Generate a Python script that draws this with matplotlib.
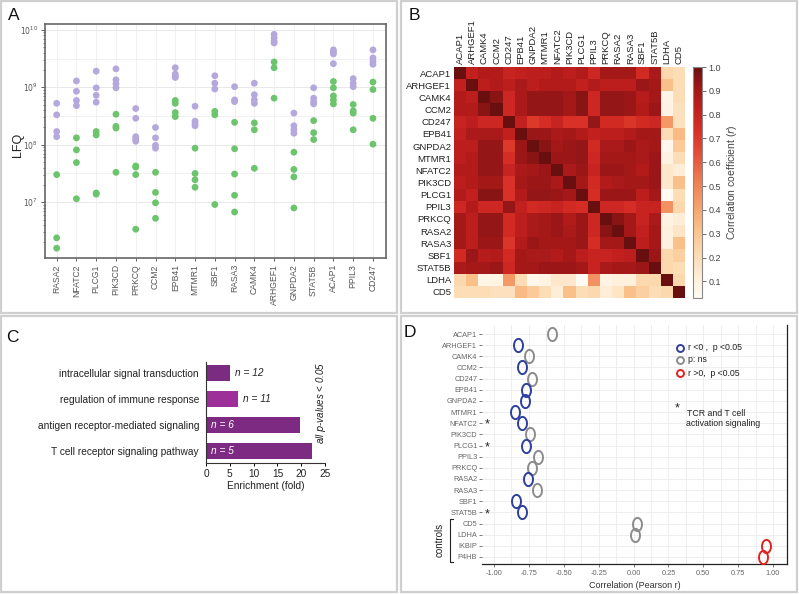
import numpy as np
import matplotlib
matplotlib.use("Agg")
import matplotlib.pyplot as plt
from matplotlib.colors import LinearSegmentedColormap
from matplotlib.patches import Rectangle
from matplotlib.path import Path
from matplotlib.lines import Line2D
from matplotlib.ticker import LogLocator, NullFormatter, FixedLocator

plt.rcParams['font.family'] = ['Liberation Sans', 'DejaVu Sans']

W, H = 799, 594

# ---------------- Panel A data ----------------
a_genes = ["RASA2", "NFATC2", "PLCG1", "PIK3CD", "PRKCQ", "CCM2", "EPB41", "MTMR1", "SBF1",
           "RASA3", "CAMK4", "ARHGEF1", "GNPDA2", "STAT5B", "ACAP1", "PPIL3", "CD247"]
a_purple_log = [
    [8.72, 8.52, 8.23, 8.14],
    [9.11, 8.93, 8.77, 8.68],
    [9.28, 8.99, 8.86, 8.74],
    [9.32, 9.13, 9.06, 8.99],
    [8.63, 8.46, 8.14, 8.10, 8.06],
    [8.30, 8.12, 7.99, 7.94],
    [9.34, 9.23, 9.19, 9.17],
    [8.67, 8.41, 8.37, 8.33],
    [9.20, 9.07, 8.97],
    [9.01, 8.78, 8.75],
    [9.07, 8.87, 8.78, 8.72],
    [9.92, 9.86, 9.80, 9.77],
    [8.55, 8.33, 8.26, 8.20],
    [8.99, 8.81, 8.75, 8.71],
    [9.65, 9.61, 9.58, 9.41],
    [9.15, 9.07, 9.01],
    [9.65, 9.51, 9.45, 9.40],
]
a_green_log = [
    [7.48, 6.38, 6.20],
    [8.12, 7.91, 7.69, 7.06],
    [8.23, 8.17, 7.16, 7.14],
    [8.53, 8.32, 8.29, 7.52],
    [7.63, 7.61, 7.48, 6.53],
    [7.52, 7.17, 6.99, 6.72],
    [8.77, 8.72, 8.56, 8.49],
    [7.94, 7.50, 7.39, 7.26],
    [8.58, 8.52, 6.96],
    [8.39, 7.93, 7.49, 7.12, 6.83],
    [8.38, 8.26, 7.59],
    [9.44, 9.34, 8.81],
    [7.87, 7.57, 7.44, 6.90],
    [8.42, 8.21, 8.09],
    [9.10, 8.99, 8.85, 8.78, 8.71],
    [8.70, 8.59, 8.55, 8.26],
    [9.09, 8.96, 8.46, 8.01],
]

# ---------------- Panel B data ----------------
b_genes = ["ACAP1", "ARHGEF1", "CAMK4", "CCM2", "CD247", "EPB41", "GNPDA2", "MTMR1", "NFATC2",
           "PIK3CD", "PLCG1", "PPIL3", "PRKCQ", "RASA2", "RASA3", "SBF1", "STAT5B", "LDHA", "CD5"]
b_corr = [
    [1.00, .82, .86, .86, .80, .82, .84, .84, .86, .84, .86, .78, .90, .90, .90, .76, .88, .22, .20],
    [.82, 1.00, .84, .86, .84, .88, .84, .86, .86, .86, .82, .86, .84, .84, .84, .92, .90, .32, .20],
    [.86, .84, 1.00, .95, .78, .88, .93, .93, .93, .90, .95, .78, .93, .93, .92, .85, .90, .07, .20],
    [.86, .86, .95, 1.00, .78, .88, .93, .93, .93, .90, .95, .78, .93, .93, .92, .86, .92, .08, .18],
    [.80, .84, .78, .78, 1.00, .82, .70, .74, .80, .72, .72, .93, .76, .76, .71, .76, .78, .44, .18],
    [.82, .88, .88, .88, .82, 1.00, .92, .92, .88, .90, .86, .82, .84, .84, .86, .90, .90, .20, .34],
    [.84, .84, .93, .93, .70, .92, 1.00, .95, .90, .92, .93, .76, .88, .88, .92, .88, .90, .05, .28],
    [.84, .86, .93, .93, .74, .92, .95, 1.00, .92, .92, .93, .78, .90, .90, .90, .88, .92, .08, .20],
    [.86, .86, .93, .93, .80, .88, .90, .92, 1.00, .88, .92, .80, .92, .92, .90, .86, .92, .15, .12],
    [.84, .86, .90, .90, .72, .90, .92, .92, .88, 1.00, .90, .76, .86, .88, .90, .90, .92, .15, .32],
    [.86, .82, .95, .95, .72, .86, .93, .93, .92, .90, 1.00, .74, .92, .92, .92, .84, .90, .03, .20],
    [.78, .86, .78, .78, .93, .82, .76, .78, .80, .76, .74, 1.00, .78, .78, .74, .80, .80, .46, .22],
    [.90, .84, .93, .93, .76, .84, .88, .90, .92, .86, .92, .78, 1.00, .95, .90, .80, .88, .08, .12],
    [.90, .84, .93, .93, .76, .84, .88, .90, .92, .88, .92, .78, .95, 1.00, .90, .82, .90, .10, .16],
    [.90, .84, .92, .92, .71, .86, .92, .90, .90, .90, .92, .74, .90, .90, 1.00, .84, .90, .10, .32],
    [.76, .92, .85, .86, .76, .90, .88, .88, .86, .90, .84, .80, .80, .82, .84, 1.00, .92, .22, .26],
    [.88, .90, .90, .92, .78, .90, .90, .92, .92, .92, .90, .80, .88, .90, .90, .92, 1.00, .22, .20],
    [.22, .32, .07, .08, .44, .20, .05, .08, .15, .15, .03, .46, .08, .10, .10, .22, .22, 1.00, .22],
    [.20, .20, .20, .18, .18, .34, .28, .20, .12, .32, .20, .22, .12, .16, .32, .26, .20, .22, 1.00],
]
b_cbar_ticks = [0.1, 0.2, 0.3, 0.4, 0.5, 0.6, 0.7, 0.8, 0.9, 1.0]

# ---------------- Panel C data ----------------
c_terms = ["intracellular signal transduction", "regulation of immune response",
           "antigen receptor-mediated signaling", "T cell receptor signaling pathway"]
c_enrich = [5.0, 6.7, 19.7, 22.2]
c_n = [12, 11, 6, 5]

# ---------------- Panel D data ----------------
d_genes = ["ACAP1", "ARHGEF1", "CAMK4", "CCM2", "CD247", "EPB41", "GNPDA2", "MTMR1", "NFATC2",
           "PIK3CD", "PLCG1", "PPIL3", "PRKCQ", "RASA2", "RASA3", "SBF1", "STAT5B",
           "CD5", "LDHA", "IKBIP", "P4HB"]
d_r = [-0.587, -0.828, -0.749, -0.80, -0.725, -0.773, -0.775, -0.847, -0.80,
       -0.742, -0.773, -0.685, -0.725, -0.756, -0.694, -0.84, -0.80,
       0.028, 0.008, 0.952, 0.928]
d_group = ["ns", "neg", "ns", "neg", "ns", "neg", "neg", "neg", "neg",
           "ns", "neg", "ns", "ns", "neg", "ns", "neg", "neg",
           "ns", "ns", "pos", "pos"]
d_star = ["NFATC2", "PLCG1", "STAT5B"]

# ---------------------------------------------------------
fig = plt.figure(figsize=(W / 100, H / 100), dpi=100)
fig.patch.set_facecolor('white')


def axes_px(x0, y0, x1, y1):
    return fig.add_axes([x0 / W, 1 - y1 / H, (x1 - x0) / W, (y1 - y0) / H])


def fx(px):
    return px / W


def fy(py):
    return 1 - py / H


# panel frames
for (x0, y0, x1, y1) in [(1, 1, 397, 313), (401, 1, 797, 313), (1, 316, 397, 592), (401, 316, 797, 592)]:
    fig.add_artist(Rectangle((fx(x0), fy(y1)), (x1 - x0) / W, (y1 - y0) / H,
                             transform=fig.transFigure, fill=False, edgecolor='#cfcfcf', lw=1.6))

for lab, x, y in [("A", 14, 15), ("B", 414, 15), ("C", 12, 337), ("D", 410, 333)]:
    fig.text(fx(x), fy(y), lab, fontsize=12.5, ha='center', va='center', color='#111')

# ---------------- Panel A ----------------
axA = axes_px(45, 24, 386, 258)
purple = '#b5a8dc'
green = '#6cc46c'
for i in range(len(a_genes)):
    pv = 10 ** np.array(a_purple_log[i])
    gv = 10 ** np.array(a_green_log[i])
    axA.scatter(np.full(len(pv), i), pv, s=24, color=purple, edgecolors='none', zorder=3)
    axA.scatter(np.full(len(gv), i), gv, s=24, color=green, edgecolors='none', zorder=3)
axA.set_yscale('log')
axA.set_ylim(1.07e6, 1.26e10)
axA.set_xlim(-0.59, 16.66)
axA.set_xticks(range(len(a_genes)))
axA.set_xticklabels(a_genes, rotation=90, fontsize=6.2, color='#555')
axA.yaxis.set_major_locator(FixedLocator([1e7, 1e8, 1e9, 1e10]))
axA.set_yticklabels([r'$10^{7}$', r'$10^{8}$', r'$10^{9}$', r'$10^{10}$'], fontsize=5.5, color='#555')
axA.yaxis.set_minor_locator(LogLocator(base=10, subs=np.arange(2, 10)))
axA.yaxis.set_minor_formatter(NullFormatter())
for v in [1e7, 1e8, 1e9, 1e10]:
    axA.axhline(v, color='#e8e8e8', lw=0.7, zorder=0)
    axA.axhline(v * 10 ** 0.5, color='#efefef', lw=0.6, zorder=0)
for i in range(len(a_genes)):
    axA.axvline(i, color='#eeeeee', lw=0.6, zorder=0)
axA.tick_params(axis='both', which='major', length=3, width=0.6, color='#444', pad=2)
axA.tick_params(axis='y', which='minor', length=1.8, width=0.5, color='#444')
axA.tick_params(axis='x', length=2.5)
for s in axA.spines.values():
    s.set_color('#666')
    s.set_linewidth(1.2)
fig.text(fx(18), fy(145), 'LFQ', rotation=90, fontsize=9, color='#222', ha='center', va='center')

# ---------------- Panel B ----------------
cmap = LinearSegmentedColormap.from_list('corr', [
    (0.00, '#fffaf2'),
    (0.08, '#fff0dc'),
    (0.18, '#fddcb4'),
    (0.29, '#fbc38c'),
    (0.40, '#f6a06c'),
    (0.51, '#ee7c52'),
    (0.61, '#e5533c'),
    (0.72, '#d93026'),
    (0.82, '#c21f1f'),
    (0.91, '#a01818'),
    (1.00, '#6a0f0f'),
])
axB = axes_px(454, 67, 685, 298)
mat = np.array(b_corr)
im = axB.imshow(mat, cmap=cmap, vmin=0.03, vmax=1.0, aspect='auto', interpolation='nearest')
axB.set_xticks(range(len(b_genes)))
axB.set_yticks(range(len(b_genes)))
axB.set_xticklabels(b_genes, rotation=90, fontsize=6.8, color='#222')
axB.set_yticklabels(b_genes, fontsize=6.8, color='#222')
axB.xaxis.tick_top()
axB.tick_params(length=0, pad=2)
for s in axB.spines.values():
    s.set_visible(False)

caxB = axes_px(693, 67, 702, 298)
cb = fig.colorbar(im, cax=caxB, ticks=b_cbar_ticks)
cb.ax.set_yticklabels([f'{t:.1f}' for t in b_cbar_ticks])
cb.ax.tick_params(labelsize=6.5, length=3, width=0.6, color='#555', labelcolor='#444', pad=1.5)
cb.outline.set_edgecolor('#888')
cb.outline.set_linewidth(0.8)
cb.set_label('Correlation coefficient ($r$)', fontsize=7.5, color='#444', labelpad=3)

# ---------------- Panel C ----------------
axC = axes_px(206, 362, 325, 463)
c_colors = ['#7b2b80', '#9c2f98', '#7c2a82', '#7c2a82']
yc = np.arange(len(c_terms))
axC.barh(yc, c_enrich, height=0.62, color=c_colors, zorder=2)
axC.set_ylim(3.46, -0.42)
axC.set_xlim(0, 25)
axC.set_xticks([0, 5, 10, 15, 20, 25])
axC.set_yticks(yc)
axC.set_yticklabels(c_terms, fontsize=7.3, color='#222')
axC.tick_params(axis='y', length=0, pad=5)
axC.tick_params(axis='x', length=2.5, width=0.7, labelsize=7.3, pad=1.5, labelcolor='#222')
for s in ['top', 'right']:
    axC.spines[s].set_visible(False)
for s in ['left', 'bottom']:
    axC.spines[s].set_color('#333')
    axC.spines[s].set_linewidth(0.8)
axC.set_xlabel('Enrichment (fold)', fontsize=7.3, color='#222', labelpad=2)
for i, (v, n) in enumerate(zip(c_enrich, c_n)):
    if v < 10:
        axC.text(v + 1.0, i, f'n = {n}', fontsize=7.3, style='italic', va='center', ha='left', color='#222')
    else:
        axC.text(1.0, i, f'n = {n}', fontsize=7.3, style='italic', va='center', ha='left', color='white')
fig.text(fx(321), fy(403), r'all $p$-values < 0.05', rotation=90, fontsize=7, style='italic',
         ha='center', va='center', color='#222')

# ---------------- Panel D ----------------
axD = axes_px(482, 325, 787, 564)
t = np.linspace(0, 2 * np.pi, 60)
ell = Path(np.column_stack([0.68 * np.cos(t), np.sin(t)]), closed=True)
gcol = {"neg": '#2e3f9e', "ns": '#8c8c8c', "pos": '#e0231f'}
yd = np.arange(len(d_genes))
for i, (r, g) in enumerate(zip(d_r, d_group)):
    axD.plot(r, i, marker=ell, markersize=9.5, markerfacecolor='none',
             markeredgecolor=gcol[g], markeredgewidth=1.4, linestyle='none', zorder=3)
axD.set_xlim(-1.086, 1.10)
axD.set_ylim(20.63, -0.81)
axD.set_xticks([-1.0, -0.75, -0.5, -0.25, 0.0, 0.25, 0.5, 0.75, 1.0])
axD.set_xticklabels(['-1.00', '-0.75', '-0.50', '-0.25', '0.00', '0.25', '0.50', '0.75', '1.00'])
axD.set_xticks(np.arange(-1.0, 1.01, 0.125), minor=True)
axD.set_yticks(yd)
axD.set_yticklabels(d_genes)
axD.grid(True, which='both', axis='x', color='#ebebeb', lw=0.6, zorder=0)
axD.grid(True, which='major', axis='y', color='#ebebeb', lw=0.6, zorder=0)
axD.set_axisbelow(True)
axD.tick_params(axis='y', length=2, width=0.6, color='#666', labelsize=5.3, labelcolor='#666', pad=1.5)
axD.tick_params(axis='x', which='major', length=2, width=0.6, color='#666', labelsize=5.3,
                labelcolor='#666', pad=2)
axD.tick_params(axis='x', which='minor', length=0)
for s in ['top', 'left']:
    axD.spines[s].set_visible(False)
for s in ['right', 'bottom']:
    axD.spines[s].set_color('#222')
    axD.spines[s].set_linewidth(0.9)
axD.set_xlabel('Correlation (Pearson r)', fontsize=6.5, color='#333', labelpad=3)
for g in d_star:
    axD.text(-1.05, d_genes.index(g) + 0.15, '*', fontsize=9, ha='center', va='center',
             color='#222', clip_on=False)

# controls bracket
bx = fx(450)
fig.add_artist(Line2D([fx(453), bx, bx, fx(453)], [fy(519), fy(519), fy(562), fy(562)],
                      transform=fig.transFigure, color='#222', lw=0.8))
fig.text(fx(440), fy(540), 'controls', rotation=90, fontsize=7, ha='center', va='center', color='#222')

# legend
leg_items = [('neg', 'r <0 ,  p <0.05', 348), ('ns', 'p: ns', 360), ('pos', 'r >0,  p <0.05', 373)]
for g, txt, py in leg_items:
    fig.add_artist(Line2D([fx(680)], [fy(py)], transform=fig.transFigure, marker='o', markersize=5,
                          markerfacecolor='none', markeredgecolor=gcol[g], markeredgewidth=1.4,
                          linestyle='none'))
    fig.text(fx(688), fy(py), txt, fontsize=6.3, ha='left', va='center', color='#222')
fig.text(fx(677), fy(408), '*', fontsize=9, ha='center', va='center', color='#222')
fig.text(fx(687), fy(413), 'TCR and T cell', fontsize=6.3, ha='left', va='center', color='#222')
fig.text(fx(686), fy(423), 'activation signaling', fontsize=6.3, ha='left', va='center', color='#222')

fig.savefig('out.png', dpi=100, facecolor='white')
